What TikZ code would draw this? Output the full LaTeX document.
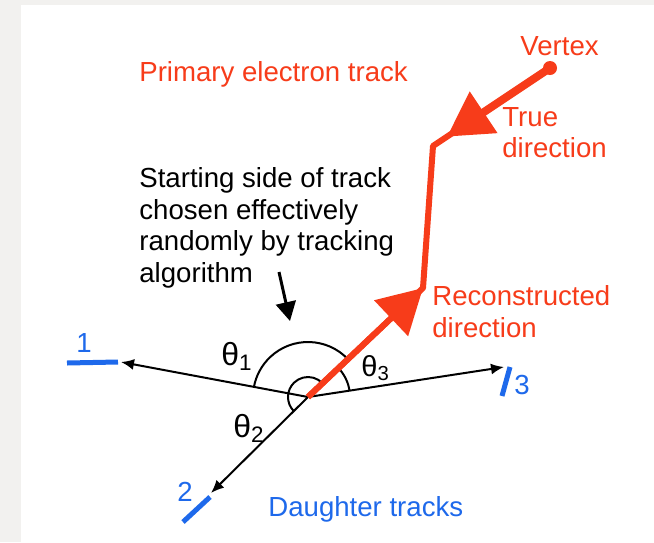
\documentclass[tikz,border=0pt]{standalone}
\usepackage{fontspec}
\setmainfont{Liberation Sans}
\usetikzlibrary{arrows.meta,calc}

\definecolor{trackred}{RGB}{247,60,26}
\definecolor{daublue}{RGB}{30,105,235}
\definecolor{pagegray}{RGB}{242,241,239}

\begin{document}
\begin{tikzpicture}[x=0.5pt,y=-0.5pt]
  \tikzset{
    txt/.style={inner sep=0pt, font=\fontsize{13.8}{15.8}\selectfont},
    redtxt/.style={txt, text=trackred, align=left},
    bluetxt/.style={txt, text=daublue},
    theta/.style={inner sep=0pt, anchor=base west, font=\fontsize{16}{18}\selectfont},
    primary/.style={draw=trackred, line width=3pt, line join=round},
    bigtip/.style={-{Triangle[length=22pt,width=24pt]}},
    daughter/.style={-{Latex[length=6.5pt,width=5.5pt]}, line width=1pt},
    detector/.style={draw=daublue, line width=2.5pt},
    anglearc/.style={line width=1pt}
  }

  \useasboundingbox (0,0) rectangle (654,542);
  \fill[pagegray] (0,0) rectangle (654,542);
  \fill[white] (21,5) rectangle (654,542);

  \coordinate (vtx) at (550,68);
  \coordinate (kinkA) at (433,146);
  \coordinate (kinkB) at (423,288);
  \coordinate (orig) at (308,397);
  \coordinate (end1) at (121,362);
  \coordinate (end2) at (211,493);
  \coordinate (end3) at (504,367);

  \node[redtxt, anchor=base west] (primlbl) at (139,81) {Primary electron track};
  \node[redtxt, anchor=base west] (vtxlbl) at (520,55) {Vertex};
  \node[redtxt, anchor=north west] (truelbl) at (502,107) {True\\direction};
  \node[redtxt, anchor=north west] (recolbl) at (432,285) {Reconstructed\\direction};
  \node[txt, align=left, anchor=north west] (startlbl) at (139,167)
    {Starting side of track\\chosen effectively\\randomly by tracking\\algorithm};
  \node[bluetxt, anchor=base west] (daulbl) at (268,516) {Daughter tracks};

  \node[bluetxt] (num1) at (84,343) {1};
  \node[bluetxt] (num2) at (185,492) {2};
  \node[bluetxt] (num3) at (522,385) {3};

  \node[theta] (th1) at (221,365) {θ\textsubscript{1}};
  \node[theta] (th2) at (233,437) {θ\textsubscript{2}};
  \node[theta, font=\fontsize{14.5}{16}\selectfont] (th3) at (361,376) {θ\textsubscript{3}};

  \coordinate (ptrstart) at (279,272);
  \coordinate (ptrend) at (290,321);
  \draw[-{Triangle[length=9.5pt,width=10pt]}, line width=1.5pt] (ptrstart) -- (ptrend);

  \draw[detector] (67,363) -- (118,362);
  \draw[detector] (183,522) -- (210,497);
  \draw[detector] (510,367) -- (502,396);

  \draw[daughter] (orig) -- (end1);
  \draw[daughter] (orig) -- (end2);
  \draw[daughter] (orig) -- (end3);

  \draw[anglearc] ($(orig)+(-43.5:55)$) arc[start angle=-43.5, end angle=-169.5, radius=55];
  \draw[anglearc] ($(orig)+(-8.7:42)$) arc[start angle=-8.7, end angle=-43.5, radius=42];
  \draw[anglearc] ($(orig)+(135.6:20)$) arc[start angle=135.6, end angle=316.5, radius=20];

  \draw[primary] (vtx) -- (kinkA) -- (kinkB) -- (orig);
  \draw[primary, line width=4pt, bigtip] (vtx) -- ($(vtx)!0.88!(kinkA)$);
  \draw[primary, bigtip] (orig) -- (kinkB);
  \fill[trackred] (vtx) circle[radius=3.5pt];
\end{tikzpicture}
\end{document}
